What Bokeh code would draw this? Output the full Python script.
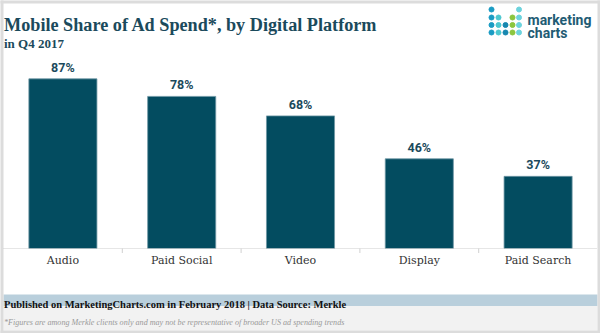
from bokeh.plotting import figure
from bokeh.models import ColumnDataSource, FactorRange, Range1d
from bokeh.core.properties import value
from bokeh.embed import file_html
from bokeh.resources import INLINE

# ---- data ----
platforms = ["Audio", "Paid Social", "Video", "Display", "Paid Search"]
shares = [87, 78, 68, 46, 37]
share_labels = ["87%", "78%", "68%", "46%", "37%"]

title_text = "Mobile Share of Ad Spend*, by Digital Platform"
subtitle_text = "in Q4 2017"
source_text = "Published on MarketingCharts.com in February 2018 | Data Source: Merkle"
note_text = "*Figures are among Merkle clients only and may not be representative of broader US ad spending trends"

W, H = 600, 333
BASE = 248      # canvas y of the zero line
PXU = 1.95      # pixels per percentage point
PLOT_L, PLOT_R = 3, 597
STEP = (PLOT_R - PLOT_L) / len(platforms)

BAR = "#034c60"
DARK = "#1b4a5c"
SERIF = "DejaVu Serif"
SERIF2 = "Liberation Serif"

pad = 2 * (PLOT_L / STEP) / len(platforms)
x_range = FactorRange(*platforms, range_padding=pad, range_padding_units="percent")
y_range = Range1d(-(H - BASE) / PXU, BASE / PXU)

p = figure(width=W, height=H, x_range=x_range, y_range=y_range,
           x_axis_location=None, y_axis_location=None,
           output_backend="svg", toolbar_location=None,
           min_border=0, min_border_left=0, min_border_right=0,
           min_border_top=0, min_border_bottom=0, outline_line_color=None,
           background_fill_color="white", border_fill_color="white")
p.grid.visible = False

# helpers for decoration placed in page-pixel terms (converted to the plot's own coordinates)
def cx(px):
    u = (px - PLOT_L) / STEP
    i = min(max(int(u // 1), 0), len(platforms) - 1)
    return (platforms[i], u - i - 0.5)

def cy(py):
    return (BASE - py) / PXU

# ---- footer bands and outer border ----
p.quad(left=[cx(3)], right=[cx(597)], top=[cy(294)], bottom=[cy(305.5)],
       fill_color="#b9cfdc", line_color=None)
p.quad(left=[cx(3)], right=[cx(597)], top=[cy(305.5)], bottom=[cy(330)],
       fill_color="#f2f2f2", line_color=None)
p.quad(left=[cx(-5), cx(-5), cx(-5), cx(597)],
       right=[cx(605), cx(605), cx(3), cx(605)],
       top=[cy(-5), cy(330), cy(-5), cy(-5)],
       bottom=[cy(3), cy(340), cy(340), cy(340)],
       fill_color="#dcdcdc", line_color=None)

# ---- bars ----
src = ColumnDataSource(dict(x=platforms, y=shares, lab=share_labels,
                            zero=[0] * len(platforms)))
p.vbar(x="x", top="y", bottom=0, width=0.573, source=src, fill_color=BAR,
       line_color="#6f97a5", line_width=0.8)
p.text(x="x", y="y", text="lab", source=src, text_align="center",
       text_baseline="bottom", y_offset=-4, text_font=value("Roboto"),
       text_font_style="bold", text_font_size="12.5px", text_color=DARK)

# ---- category axis (baseline, separator ticks, labels) ----
p.segment(x0=[cx(3)], x1=[cx(597)], y0=[0], y1=[0], line_color="#cccccc",
          line_dash="1 1", line_width=1)
seps = [(f, -0.5) for f in platforms[1:]]
p.segment(x0=seps, x1=seps, y0=[0] * len(seps), y1=[-4.5 / PXU] * len(seps),
          line_color="#d0d0d0", line_width=1)
p.text(x="x", y="zero", text="x", source=src, text_align="center",
       text_baseline="middle", y_offset=12, text_font=value(SERIF),
       text_font_size="11px", text_color="#333333")

# ---- header / footer text ----
def ptext(t, x, y, size, color, font=SERIF2, style="bold"):
    p.text(x=[cx(x)], y=[cy(y)], text=[t], text_font=value(font),
           text_font_size=size, text_font_style=style, text_color=color,
           text_baseline="alphabetic", text_align="left")

ptext(title_text, 3.5, 24, "18.2px", DARK)
ptext(subtitle_text, 3.5, 42.5, "13px", DARK)
ptext(source_text, 3.5, 303.5, "10.5px", "#111111")
ptext(note_text, 3.5, 322, "8.1px", "#999999", style="italic")
ptext("marketing", 527, 19, "14px", "#1f5c74", font="Roboto")
ptext("charts", 527, 32, "14px", "#1f5c74", font="Roboto")

# ---- logo dots ----
cols = [491, 498, 505, 512, 518.5]
rows = [9, 17, 24.5, 32]
dots = [
    (0, 0, "#1a9cc4"), (0, 4, "#6dd3dd"),
    (1, 0, "#1a9cc4"), (1, 1, "#4cc8d0"), (1, 3, "#8cc63f"), (1, 4, "#6dd3dd"),
    (2, 0, "#1a9cc4"), (2, 1, "#4cc8d0"), (2, 2, "#1888b0"), (2, 3, "#8cc63f"), (2, 4, "#6dd3dd"),
    (3, 0, "#1a9cc4"), (3, 1, "#4cc8d0"), (3, 2, "#1888b0"), (3, 3, "#8cc63f"), (3, 4, "#6dd3dd"),
]
p.scatter(x=[cx(cols[c]) for r, c, _ in dots], y=[cy(rows[r]) for r, c, _ in dots],
          color=[k for _, _, k in dots], size=5, marker="circle")

open("out.html", "w").write(file_html(p, INLINE))
